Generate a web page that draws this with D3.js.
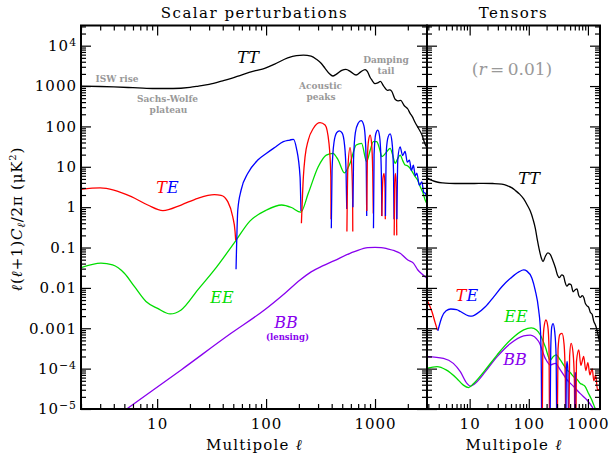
<!DOCTYPE html>
<html>
<head>
<meta charset="utf-8">
<script src="https://cdnjs.cloudflare.com/ajax/libs/d3/7.8.5/d3.min.js"></script>
<style>
body { margin: 0; background: #fff; }
text { font-family: "DejaVu Serif", serif; }
</style>
</head>
<body>
<svg id="cmb" width="611" height="458"></svg>
<script>
// [multipole, l(l+1)C_l/2pi in uK^2] ; TE keeps its sign (red = +, blue = -)
var ttScalar = [[2,1000],[3,975],[4,950],[6,910],[8,880],[10,870],[14,870],[20,930],[24,1000],[30,1100],[40,1350],[48,1555],[60,1900],[80,2400],[97,2750],[120,3500],[158,5000],[190,5700],[220,5850],[259,5500],[290,4600],[320,3660],[348,2750],[380,2050],[410,1775],[440,1950],[495,2450],[540,2600],[600,2250],[670,1880],[740,2250],[811,2550],[850,2300],[900,1650],[934,1413],[1000,1150],[1060,1200],[1120,1300],[1200,1000],[1300,780],[1360,800],[1420,750],[1530,470],[1620,430],[1720,440],[1850,330],[2000,270],[2100,210],[2200,175],[2334,125],[2502,90],[2693,62],[2884,36],[3000,30]];

var teScalar = [[2,2.77],[3,2.99],[4,2.66],[5.8,1.82],[8.2,1.13],[11.3,0.82],[16.6,1.13],[23.6,1.66],[33.5,2.04],[38.6,1.97],[44.5,1.37],[49.4,0.58],[51.9,0.25],[52.6,0.15],
  [53,-0.029],[55,-0.85],[59,-2.66],[68,-6.9],[84,-14.7],[101,-21.6],[120,-30],[144,-41.9],[165,-46],[178,-48],[190,-28.7],[205,-5.7],[209,-0.8],
  [211,0.4],[220,5.7],[228,17.8],[244,46],[272,90],[313,124],[348,108],[378,38],[393,5.7],[395,0.5],
  [397,-0.3],[403,-8],[420,-40],[445,-70],[471,-78],[500,-68],[525,-35],[542,-8],[550,-0.9],
  [552,0.25],[562,8],[590,30],[612,10],[623,1.5],[625,0.25],
  [627,-1],[635,-15],[660,-70],[700,-120],[745,-139],[790,-105],[818,-40],[832,-8],[839,-0.6],
  [841,0.8],[850,15],[875,48],[902,61],[930,38],[952,8],[964,0.7],
  [968,-0.3],[980,-20],[1015,-65],[1061,-81],[1100,-58],[1132,-18],[1150,-2],[1153,-0.6],
  [1156,0.6],[1180,5],[1211,6.9],[1235,3],[1243,0.5],
  [1247,-0.6],[1270,-25],[1320,-55],[1376,-65],[1430,-42],[1478,-8],[1494,-0.5],
  [1499,0.2],[1515,4],[1540,6.9],[1570,3],[1583,0.2],
  [1588,-0.5],[1620,-16],[1700,-31],[1790,-19],[1888,-24],[1980,-13],[2070,-14.7],[2160,-8],[2250,-11],[2340,-6],[2420,-7],[2550,-3.5],[2693,-4.2],[2800,-2.3],[2900,-2.2],[3000,-1.5]];

var eeScalar = [[2,0.0316],[3.05,0.041],[3.9,0.037],[5,0.023],[6.2,0.0107],[7.9,0.0046],[10.1,0.0031],[13.2,0.00226],[16.6,0.00284],[23.6,0.0089],[33.5,0.0278],[52,0.14],[71,0.45],[101,0.85],[139,1.13],[171,0.98],[208,0.75],[244,2.2],[301,10],[357,19.5],[411,21.6],[459,14.7],[523,7.1],[590,12.2],[672,34.7],[752,38],[838,13.4],[900,25],[965,41.9],[1034,41.9],[1100,28],[1154,17.8],[1220,20],[1285,23.7],[1376,28.7],[1450,20],[1528,12.2],[1600,15],[1700,19.5],[1800,14],[1888,11.1],[2000,10.5],[2100,9.2],[2200,7.5],[2334,5.7],[2450,4.8],[2600,3.2],[2750,2.3],[2884,1.5],[3000,1.2]];

var bbLensing = [[2,1.5e-6],[5.37,1.04e-5],[16.6,9.3e-5],[47.7,7.5e-4],[96.5,0.00284],[150,0.0075],[205,0.0157],[259,0.025],[330,0.035],[424,0.0475],[590,0.072],[647,0.079],[859,0.1],[1000,0.101],[1138,0.1],[1300,0.093],[1507,0.0835],[1700,0.072],[2000,0.049],[2250,0.041],[2473,0.0278],[2700,0.022],[2945,0.018],[3000,0.017]];

var ttTensor = [[1.9,5.3],[2.3,4.6],[2.8,4.2],[3.5,4.0],[4.6,3.9],[7,3.85],[12,3.85],[17,3.9],[25,3.85],[35,3.7],[43,3.4],[52,3.0],[59,2.6],[70,2.1],[82,1.6],[95,1.1],[106,0.8],[118,0.5],[129,0.3],[140,0.15],[150,0.09],[163,0.055],[174,0.045],[190,0.06],[210,0.074],[230,0.068],[255,0.048],[281,0.032],[305,0.021],[330,0.018],[360,0.021],[385,0.02],[410,0.014],[440,0.011],[480,0.0125],[520,0.012],[560,0.008],[610,0.009],[653,0.0095],[700,0.0065],[743,0.0058],[800,0.0064],[850,0.0058],[900,0.0042],[964,0.0036],[1030,0.0033],[1096,0.0025],[1180,0.0022],[1252,0.0015],[1340,0.0012],[1423,0.0009],[1510,0.0006],[1600,0.0004]];

var teTensor = [[1.9,0.005],[2.3,0.0026],[2.6,0.0014],[2.85,0.0009],
  [2.9,-0.00086],[3.4,-0.0019],[4,-0.0027],[4.8,-0.003],[6,-0.0029],[7,-0.0026],[9.6,-0.00204],[11,-0.002],[13.3,-0.0023],[18.4,-0.0034],[25.5,-0.006],[35,-0.0107],[49,-0.0173],[68,-0.025],[82,-0.0278],[93,-0.026],[113,-0.0173],[128,-0.0089],[147,-0.0028],[158,-0.0008],[163,-0.00008],[166,-0.000001],
  [168,0.000001],[172,0.0002],[180,0.001],[195,0.0016],[210,0.0011],[220,0.0003],[225,0.000002],
  [228,-0.000002],[235,-0.0003],[245,-0.0011],[257,-0.0013],[275,-0.0008],[290,-0.0002],[298,-0.000002],
  [302,0.000002],[312,0.0003],[335,0.0007],[365,0.00075],[395,0.0004],[415,0.00005],[420,0.000003],
  [423,-0.000003],[432,-0.0001],[445,-0.00015],[460,-0.00008],[470,-0.000003],
  [475,0.000003],[490,0.0002],[519,0.00042],[560,0.00025],[590,0.00005],[600,0.000005],
  [605,-0.000005],[612,-0.00008],[620,-0.000005],
  [625,0.000005],[640,0.00015],[700,0.00029],[760,0.00012],[848,0.0002],[920,0.00009],[1000,0.00014],[1080,0.00007],[1180,0.0001],[1260,0.00005],[1350,0.00007],[1450,0.00003],[1600,0.00003]];

var eeTensor = [[1.9,1.02e-4],[2.81,1.12e-4],[4,9.3e-5],[6,5.8e-5],[7.83,3.9e-5],[9.6,3.4e-5],[11.7,4.3e-5],[18.4,9.3e-5],[29.2,2.2e-4],[48.9,5.1e-4],[82,9.1e-4],[110,1.02e-3],[135,9e-4],[155,7e-4],[190,3.5e-4],[230,1.64e-4],[260,2.0e-4],[290,2.2e-4],[341,1.64e-4],[380,1.3e-4],[442,9.3e-5],[500,8e-5],[574,6.3e-5],[650,5.5e-5],[743,4.3e-5],[820,4e-5],[900,3.6e-5],[1000,2.6e-5],[1096,2.0e-5],[1200,1.5e-5],[1300,1.1e-5],[1423,8e-6],[1600,5e-6]];

var bbTensor = [[1.9,1.98e-4],[3.6,1.8e-4],[5.3,1.35e-4],[6.95,8.4e-5],[9,4.3e-5],[10.2,3.7e-5],[13.3,4.75e-5],[18.4,8.4e-5],[29.2,1.98e-4],[48.9,4.2e-4],[82,6.5e-4],[106,6.8e-4],[147,4.7e-4],[190,1.8e-4],[230,1.23e-4],[281,1.35e-4],[341,9.3e-5],[442,5.3e-5],[574,3.6e-5],[743,2.4e-5],[964,1.67e-5],[1170,1.15e-5],[1300,9e-6],[1600,5e-6]];

var yTicks = [1e4, 1000, 100, 10, 1, 0.1, 0.01, 0.001, 1e-4, 1e-5];
var yTickLabels = ["10^4", "1000", "100", "10", "1", "0.1", "0.01", "0.001", "10^\u22124", "10^\u22125"];
var xTicks = [10, 100, 1000];

var svg = d3.select("#cmb"),
    box = {left: 81, split: 427, right: 600, top: 25.5, bottom: 409};

var y = d3.scaleLog().domain([1e-5, Math.pow(10, 4.5)]).range([box.bottom, box.top]);
var xS = d3.scaleLog().domain([2, 3000]).range([box.left, box.split]);
var xT = d3.scaleLog().domain([1.9, 1600]).range([box.split, box.right]);

var colTE = {pos: "#ff0000", neg: "#0000ff"};

function isMinor(v) {
  var e = Math.log10(v);
  return Math.abs(e - Math.round(e)) > 1e-6;
}

function styleAxis(g) {
  g.select(".domain").remove();
  g.selectAll(".tick line").attr("stroke", "#000").attr("stroke-width", 1.2);
  g.attr("font-family", "DejaVu Serif").attr("font-size", 15);
  g.selectAll(".tick text").attr("fill", "#000").attr("letter-spacing", 1).each(function() {
    var t = d3.select(this), s = t.text(), k = s.indexOf("^");
    if (k >= 0) {
      t.text(s.slice(0, k));
      t.append("tspan").attr("dy", "-0.5em").attr("font-size", "0.72em").text(s.slice(k + 1));
    }
  });
}

function logAxis(maker, scale, translate, labels, pad) {
  svg.append("g").attr("transform", translate)
      .call(maker(scale).tickValues(scale.ticks(40).filter(isMinor)).tickSize(-5).tickFormat(""))
      .call(styleAxis);
  var majors = scale === y ? yTicks : xTicks;
  svg.append("g").attr("transform", translate)
      .call(maker(scale).tickValues(majors).tickSize(-10).tickPadding(pad || 3)
        .tickFormat(labels ? function(d, i) { return labels[i]; } : ""))
      .call(styleAxis);
}

// clip regions
var defs = svg.append("defs");
defs.append("clipPath").attr("id", "clipS").append("rect")
    .attr("x", box.left).attr("y", box.top).attr("width", box.split - box.left).attr("height", box.bottom - box.top);
defs.append("clipPath").attr("id", "clipT").append("rect")
    .attr("x", box.split).attr("y", box.top).attr("width", box.right - box.split).attr("height", box.bottom - box.top);

function drawCurve(g, x, data, color) {
  var line = d3.line()
      .x(function(d) { return x(d[0]); })
      .y(function(d) { return y(Math.abs(d[1])); })
      .curve(d3.curveMonotoneX);
  g.append("path").datum(data)
      .attr("fill", "none").attr("stroke", color)
      .attr("stroke-width", 1.3).attr("stroke-linejoin", "round")
      .attr("d", line);
}

// split a signed series into runs of equal sign
function drawSigned(g, x, data) {
  var runs = [], cur = null;
  data.forEach(function(d) {
    var s = d[1] >= 0 ? "pos" : "neg";
    if (!cur || cur.sign !== s) { cur = {sign: s, pts: []}; runs.push(cur); }
    cur.pts.push(d);
  });
  runs.forEach(function(r) { drawCurve(g, x, r.pts, colTE[r.sign]); });
}

var gS = svg.append("g").attr("clip-path", "url(#clipS)");
drawCurve(gS, xS, ttScalar, "#000");
drawCurve(gS, xS, bbLensing, "#8800ee");
drawCurve(gS, xS, eeScalar, "#00dd00");
drawSigned(gS, xS, teScalar);

var gT = svg.append("g").attr("clip-path", "url(#clipT)");
drawCurve(gT, xT, ttTensor, "#000");
drawCurve(gT, xT, bbTensor, "#8800ee");
drawCurve(gT, xT, eeTensor, "#00dd00");
drawSigned(gT, xT, teTensor);

// axes
logAxis(d3.axisLeft, y, "translate(" + box.left + ",0)", yTickLabels, 4);
logAxis(d3.axisRight, y, "translate(" + box.split + ",0)");
logAxis(d3.axisLeft, y, "translate(" + box.split + ",0)");
logAxis(d3.axisRight, y, "translate(" + box.right + ",0)");
logAxis(d3.axisBottom, xS, "translate(0," + box.bottom + ")", ["10", "100", "1000"], 9);
logAxis(d3.axisTop, xS, "translate(0," + box.top + ")");
logAxis(d3.axisBottom, xT, "translate(0," + box.bottom + ")", ["10", "100", "1000"], 9);
logAxis(d3.axisTop, xT, "translate(0," + box.top + ")");

// frames
[[box.left, box.split], [box.split, box.right]].forEach(function(p) {
  svg.append("rect").attr("x", p[0]).attr("y", box.top)
      .attr("width", p[1] - p[0]).attr("height", box.bottom - box.top)
      .attr("fill", "none").attr("stroke", "#000").attr("stroke-width", 2);
});

function label(x, yy, txt, size, opts) {
  opts = opts || {};
  return svg.append("text").attr("x", x).attr("y", yy)
      .attr("text-anchor", "middle").attr("font-size", size)
      .attr("letter-spacing", opts.ls || 0)
      .attr("font-family", opts.family || "DejaVu Serif")
      .attr("font-style", opts.italic ? "italic" : null)
      .attr("font-weight", opts.bold ? "bold" : null)
      .attr("fill", opts.fill || "#000")
      .text(txt);
}

// titles
label(254.5, 18, "Scalar perturbations", 15, {ls: 1.5});
label(513.5, 18, "Tensors", 15, {ls: 1.5});

var ell = "\u2113";
[254.5, 514].forEach(function(cx) {
  var t = label(cx, 450, "Multipole ", 15, {ls: 1.2});
  t.append("tspan").attr("font-style", "italic").text(ell);
});

var yl = svg.append("text").attr("transform", "translate(22,219) rotate(-90)")
    .attr("text-anchor", "middle").attr("font-size", 15).attr("letter-spacing", 0.8);
yl.append("tspan").attr("font-style", "italic").text(ell);
yl.append("tspan").text("(");
yl.append("tspan").attr("font-style", "italic").text(ell);
yl.append("tspan").text("+1)");
yl.append("tspan").attr("font-style", "italic").text("C");
yl.append("tspan").attr("font-style", "italic").attr("font-size", 11).attr("dy", 3).text(ell);
yl.append("tspan").attr("dy", -3).text("/2\u03c0 (\u03bcK");
yl.append("tspan").attr("font-size", 10).attr("dy", -6).text("2");
yl.append("tspan").attr("dy", 6).text(")");

// annotations
var gray = "#999";
var sans = "DejaVu Sans";
label(117, 82, "ISW rise", 9, {bold: true, fill: gray, family: sans});
label(167.5, 101.5, "Sachs-Wolfe", 9, {bold: true, fill: gray, family: sans});
label(168.5, 112.5, "plateau", 9, {bold: true, fill: gray, family: sans});
label(320.5, 88.5, "Acoustic", 9, {bold: true, fill: gray, family: sans});
label(321, 99.5, "peaks", 9, {bold: true, fill: gray, family: sans});
label(386, 62.5, "Damping", 9, {bold: true, fill: gray, family: sans});
label(386, 73.5, "tail", 9, {bold: true, fill: gray, family: sans});

var rl = label(512, 75, "(", 17, {fill: gray});
rl.append("tspan").attr("font-style", "italic").text("r");
rl.append("tspan").text("\u2009=\u20090.01)");

label(248, 63, "TT", 16, {italic: true});
var te1 = label(167.5, 193, "", 16, {italic: true});
te1.append("tspan").attr("fill", "#ff0000").text("T");
te1.append("tspan").attr("fill", "#0000ff").text("E");
label(222, 302.5, "EE", 16, {italic: true, fill: "#00dd00"});
label(286, 327.5, "BB", 16, {italic: true, fill: "#8800ee"});
label(287.5, 340, "(lensing)", 8.5, {bold: true, fill: "#8800ee", family: sans});

label(529, 183.5, "TT", 16, {italic: true});
var te2 = label(467, 300.5, "", 16, {italic: true});
te2.append("tspan").attr("fill", "#ff0000").text("T");
te2.append("tspan").attr("fill", "#0000ff").text("E");
label(516, 321.5, "EE", 16, {italic: true, fill: "#00dd00"});
label(515, 365, "BB", 16, {italic: true, fill: "#8800ee"});
</script>
</body>
</html>
